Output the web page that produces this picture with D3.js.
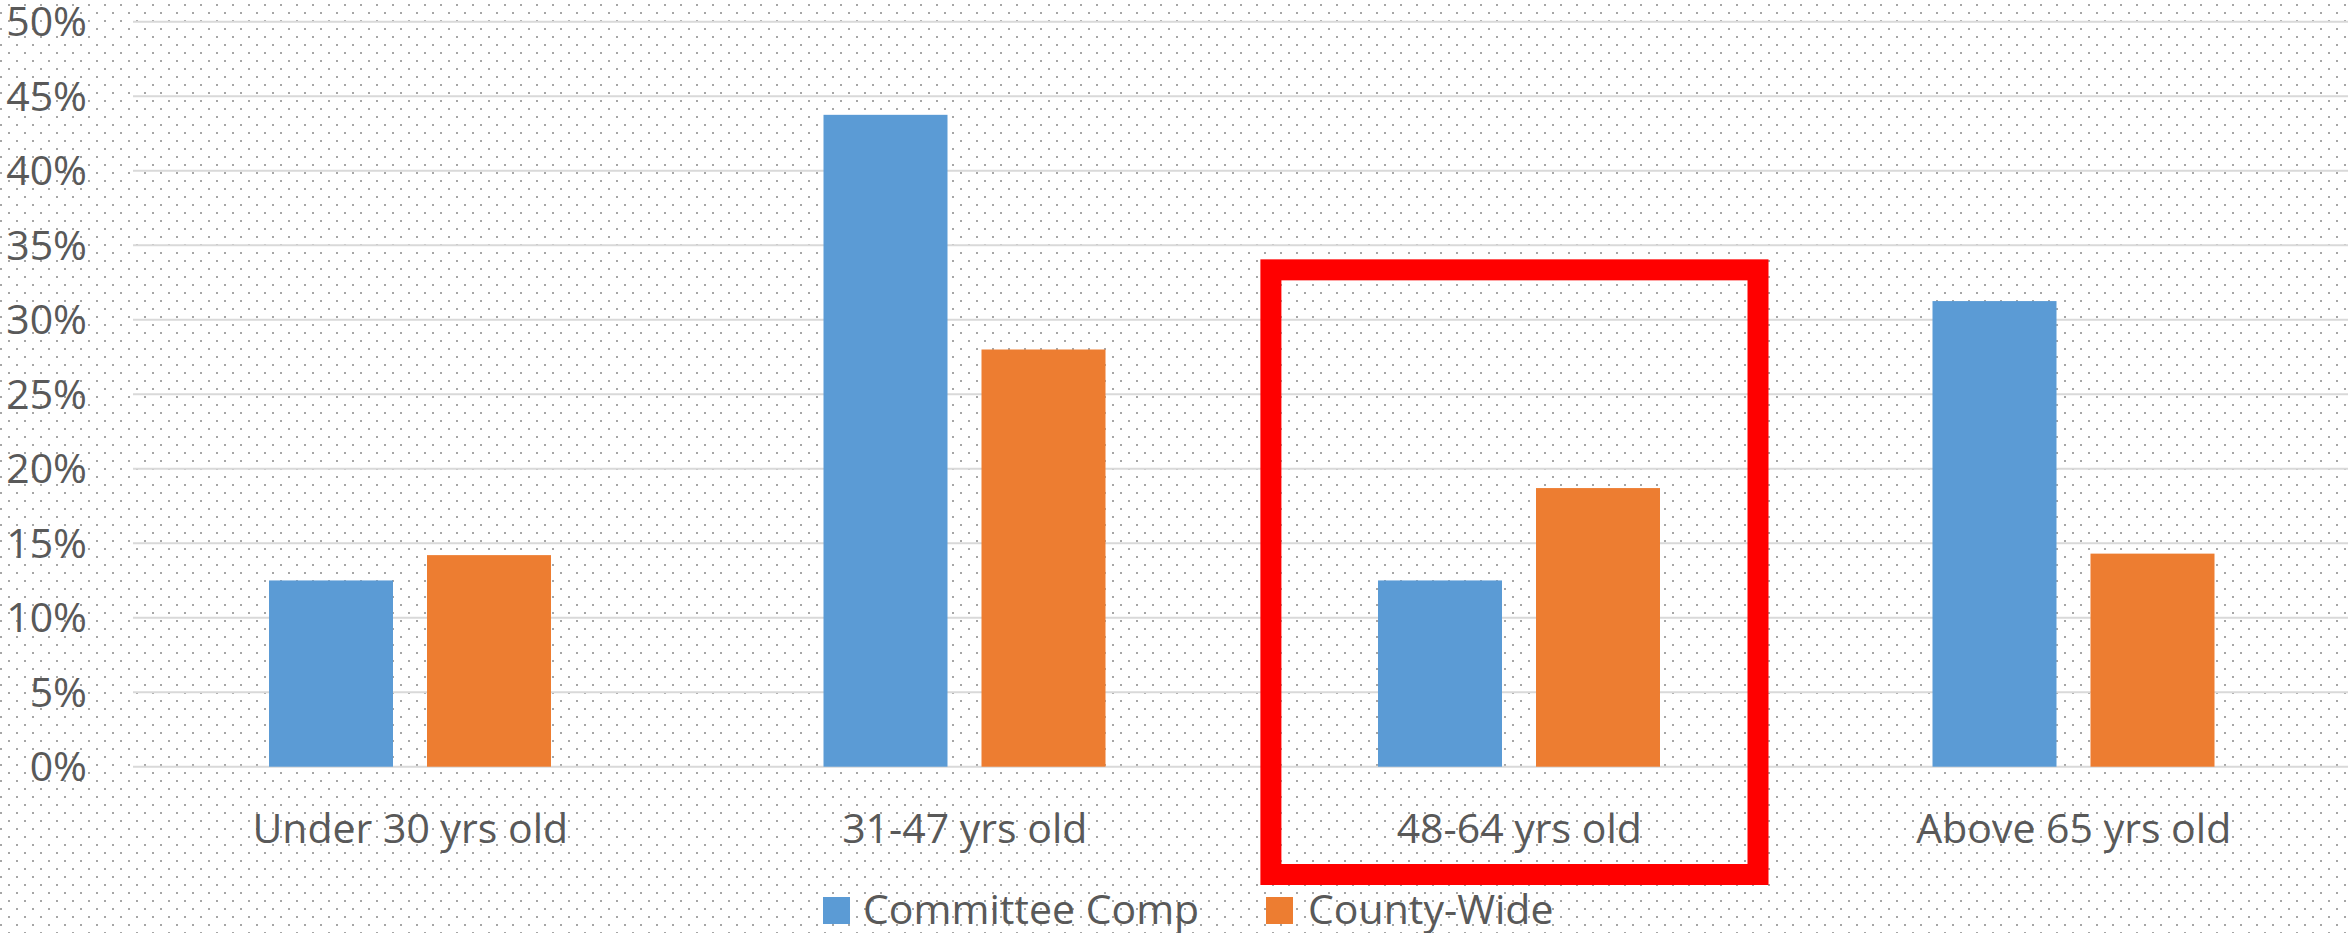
<!DOCTYPE html>
<html>
<head>
<meta charset="utf-8">
<script src="https://cdn.jsdelivr.net/npm/d3@7"></script>
<style>
  html, body { margin: 0; padding: 0; background: #ffffff; overflow: hidden; }
  svg { display: block; }
  text { font-family: "Open Sans", "Noto Sans", sans-serif; fill: #595959; }
</style>
</head>
<body>
<svg id="chart" width="2348" height="933"></svg>
<script>
// ---- data ----
const categories = ["Under 30 yrs old", "31-47 yrs old", "48-64 yrs old", "Above 65 yrs old"];
const seriesNames = ["Committee Comp", "County-Wide"];
const committeeComp = [12.5, 43.75, 12.5, 31.25];
const countyWide = [14.2, 28.0, 18.7, 14.3];
const yTicks = [0, 5, 10, 15, 20, 25, 30, 35, 40, 45, 50];
const highlighted = "48-64 yrs old";

// ---- layout ----
const W = 2348, H = 933;
const plot = { left: 133, right: 2351, top: 21.7, bottom: 766.7 };
const colors = ["#5b9bd5", "#ed7d31"];
const fontSize = 41;

const svg = d3.select("#chart");

// dotted background pattern
const defs = svg.append("defs");
const pat = defs.append("pattern")
  .attr("id", "dots").attr("patternUnits", "userSpaceOnUse")
  .attr("width", 16).attr("height", 16);
pat.append("rect").attr("width", 16).attr("height", 16).attr("fill", "#ffffff");
pat.append("rect").attr("x", 8).attr("y", 4).attr("width", 2).attr("height", 2).attr("fill", "#a6a6a6");
pat.append("rect").attr("x", 0).attr("y", 12).attr("width", 2).attr("height", 2).attr("fill", "#a6a6a6");
svg.append("rect").attr("width", W).attr("height", H).attr("fill", "url(#dots)");

// scales
const x0 = d3.scaleBand().domain(categories).range([plot.left, plot.right]).paddingInner(0).paddingOuter(0);
const y = d3.scaleLinear().domain([0, 50]).range([plot.bottom, plot.top]);

// inner placement of the two bars inside each band
const step = x0.bandwidth();
const innerPad = 136 / 554.5, barW = 124 / 554.5, gap = 34 / 554.5;
const x1 = d3.scaleBand().domain(seriesNames)
  .range([step * innerPad, step * (innerPad + 2 * barW + gap)])
  .paddingInner(gap / (barW + gap / 2) / 2 * 0 + (gap / (2 * barW + gap)) * 2 / (1 + gap / (2 * barW + gap)));

// gridlines
svg.append("g").selectAll("line").data(yTicks).join("line")
  .attr("x1", plot.left).attr("x2", W)
  .attr("y1", d => y(d)).attr("y2", d => y(d))
  .attr("stroke", "#d9d9d9").attr("stroke-width", 2);

// y axis labels
svg.append("g").selectAll("text").data(yTicks).join("text")
  .attr("x", 87).attr("y", d => y(d))
  .attr("dy", "0.36em")
  .attr("text-anchor", "end")
  .attr("font-size", fontSize)
  .text(d => d + "%");

// bars
const seriesData = [committeeComp, countyWide];
const barPositions = [step * innerPad, step * (innerPad + barW + gap)];
seriesData.forEach((vals, si) => {
  svg.append("g").selectAll("rect").data(vals).join("rect")
    .attr("x", (d, i) => x0(categories[i]) + barPositions[si])
    .attr("y", d => y(d))
    .attr("width", step * barW)
    .attr("height", d => y(0) - y(d))
    .attr("fill", colors[si]);
});

// category labels
svg.append("g").selectAll("text").data(categories).join("text")
  .attr("x", d => x0(d) + step / 2)
  .attr("y", 843)
  .attr("text-anchor", "middle")
  .attr("font-size", fontSize)
  .text(d => d);

// highlight box
const hx = x0(highlighted);
const sw = 21;
svg.append("rect")
  .attr("x", hx + 18.4 + sw / 2)
  .attr("y", y(34.05) + sw / 2)
  .attr("width", step - 18.4 - 28 - sw)
  .attr("height", 885 - y(34.05) - sw)
  .attr("fill", "none")
  .attr("stroke", "#ff0000")
  .attr("stroke-width", sw);

// legend
const legendItems = [
  { name: seriesNames[0], color: colors[0], sx: 823, tx: 863 },
  { name: seriesNames[1], color: colors[1], sx: 1266, tx: 1308 }
];
const lg = svg.append("g");
legendItems.forEach(it => {
  lg.append("rect").attr("x", it.sx).attr("y", 897).attr("width", 27).attr("height", 27).attr("fill", it.color);
  lg.append("text").attr("x", it.tx).attr("y", 924).attr("font-size", fontSize).text(it.name);
});
</script>
</body>
</html>
